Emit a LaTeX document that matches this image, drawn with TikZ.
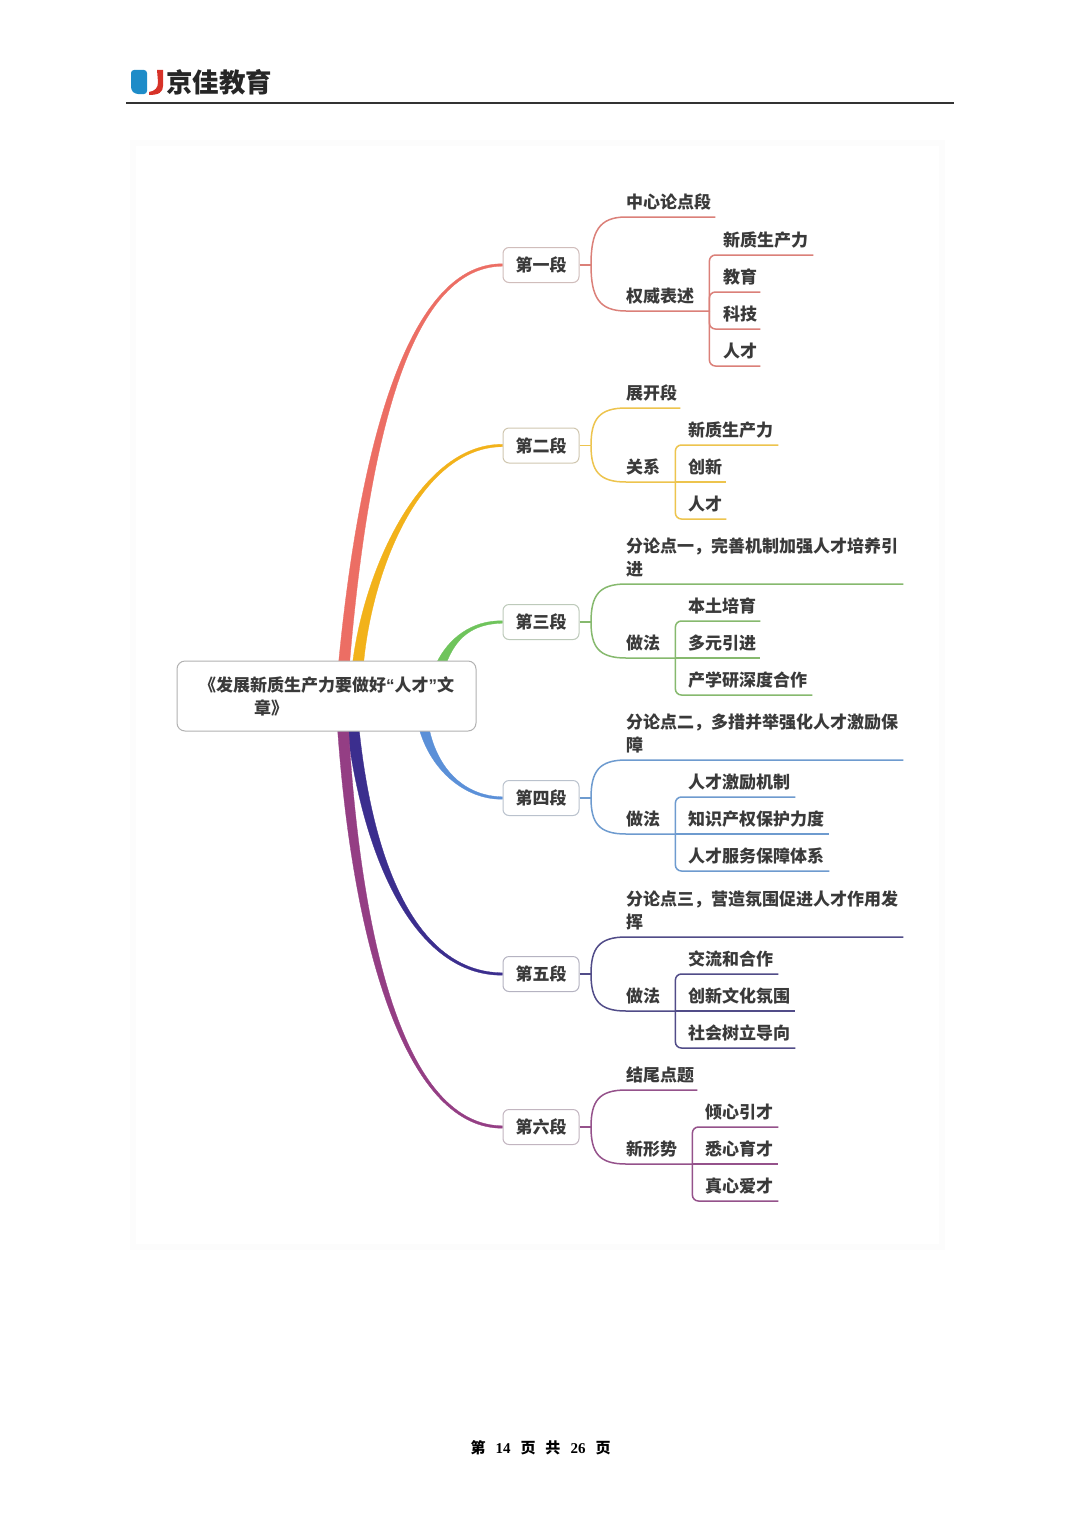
\documentclass[tikz,border=0pt]{standalone}
\usepackage{fontspec}
\usetikzlibrary{calc,backgrounds}
\setmainfont{Noto Sans CJK SC}
\newfontfamily\ltn{Liberation Sans}
\newfontfamily\serifdig{Liberation Serif}
\definecolor{txt}{HTML}{3A3A3A}
\definecolor{bA}{HTML}{EC6E64}\definecolor{lA}{HTML}{DB8079}
\definecolor{bB}{HTML}{F2B21A}\definecolor{lB}{HTML}{EDC44E}
\definecolor{bC}{HTML}{6FC45C}\definecolor{lC}{HTML}{86B96E}
\definecolor{bD}{HTML}{5B90D8}\definecolor{lD}{HTML}{6E9BCF}
\definecolor{bE}{HTML}{3B2E8E}\definecolor{lE}{HTML}{514C88}
\definecolor{bF}{HTML}{943E84}\definecolor{lF}{HTML}{95528B}
\tikzset{
  leaf/.style={anchor=south west,inner xsep=0pt,inner ysep=8.5pt,text depth=0pt,align=left,text=txt,
    font=\fontsize{17}{23}\selectfont\bfseries},
  secbox/.style={draw=#1!30!gray!50,fill=white,line width=1pt,rounded corners=6pt,minimum width=76pt,minimum height=35pt,
    inner sep=0pt,text=txt,font=\fontsize{17}{20}\selectfont\bfseries},
  rootbox/.style={draw=black!30,fill=white,line width=1pt,rounded corners=8pt,minimum width=299pt,minimum height=70pt},
  twig/.style={line width=1.5pt,draw=#1,rounded corners=6pt},
  limb/.style={line width=.3pt,draw=#1,fill=#1},
}
\newcommand{\lf}[5]{\node[leaf,text width=#4pt] (#1) at (#2,#3) {#5};}
\newcommand{\lftwo}[5]{\node[leaf,text depth=23pt,text width=#4pt] (#1) at (#2,#3) {#5};}
\newcommand{\sect}[3]{\draw[line width=1.5pt,draw=#3] (#1) .. controls ($(#1)!0.7!(#1 |- #2.south west)$) and ($(#1 |- #2.south west)+(8,0)$) .. (#2.south west) -- (#2.south east);}
% colour, start, control 1, control 2, end node, half width at the start, sign (-1 rising, 1 falling)
\newcommand{\limbto}[7]{\draw[limb=#1] ($(#2)+(-#6,0)$) .. controls ($(#3)+(-0.75*#6,0)$) and ($(#4)+(0,#7*1.8)$) .. ($(#5.west)+(0,#7*1.2)$) -- ($(#5.west)+(0,-#7*1.2)$) .. controls ($(#4)+(0,-#7*1.8)$) and ($(#3)+(0.75*#6,0)$) .. ($(#2)+(#6,0)$) -- cycle;}
\begin{document}
\begin{tikzpicture}[x=1pt,y=-1pt]
\useasboundingbox (0,0) rectangle (1080,1528);
% header
\draw[line width=1.5pt,draw=black!80] (126,103) -- (954,103);
\fill[rounded corners=3pt,color={rgb,255:red,30;green,140;blue,200}] (131,70) -- (147,70) -- (147,94) -- (135,94) -- (131,90) -- cycle;
\fill[color={rgb,255:red,215;green,50;blue,40}] (157,70) -- (163,70) -- (163,86) .. controls (163,92) and (159,95) .. (149,95) -- (149,92) .. controls (155,91) and (158,88) .. (158,82) -- cycle;
\node[anchor=west,inner sep=0pt,text=black!85,font=\fontsize{26.5}{27}\selectfont\bfseries] (logo) at (166,82) {京佳教育};
\node[anchor=center,inner sep=0pt,text=black,font=\fontsize{15}{15}\selectfont\bfseries] (foot) at (540.5,1448) {第\hspace*{10pt}{\serifdig 14}\hspace*{10pt}页\hspace*{10pt}共\hspace*{10pt}{\serifdig 26}\hspace*{10pt}页};
% root
\node[rootbox] (root) at (326.5,696) {};
\node[anchor=base west,inner sep=0pt,align=left,text=txt,font=\fontsize{17}{23}\selectfont\bfseries] (rootline) at (199,691) {《发展新质生产力要做好{\ltn “}人才{\ltn ”}文};
\node[anchor=base west,inner sep=0pt,text=txt,font=\fontsize{17}{23}\selectfont\bfseries] (rootlinetwo) at (254,714) {章》};
% section boxes
\node[secbox=bA] (sA) at (541,265) {第一段};
\node[secbox=bB] (sB) at (541,445.5) {第二段};
\node[secbox=bC] (sC) at (541,622) {第三段};
\node[secbox=bD] (sD) at (541,798) {第四段};
\node[secbox=bE] (sE) at (541,974) {第五段};
\node[secbox=bF] (sF) at (541,1127) {第六段};
\foreach \n/\y in {A/265,B/445.5,C/622,D/798,E/974,F/1127}{\coordinate (k\n) at (591,\y);}
% limbs
\begin{scope}[on background layer]
\fill[black!1.2] (130,140) rectangle (945,1250);
\fill[white] (136,146) rectangle (939,1244);
\coordinate (rA) at (344,664); \coordinate (rB) at (358,664);
\coordinate (rC) at (441,664); \coordinate (rD) at (424,728);
\coordinate (rE) at (353,728); \coordinate (rF) at (343,728);
\limbto{bA}{rA}{366,420}{415,265}{sA}{5.5}{-1}
\limbto{bB}{rB}{368,570}{420,445.5}{sB}{5.5}{-1}
\limbto{bC}{rC}{452,638}{472,622}{sC}{5}{-1}
\limbto{bD}{rD}{434,770}{465,798}{sD}{5}{1}
\limbto{bE}{rE}{368,860}{415,974}{sE}{6}{1}
\limbto{bF}{rF}{358,960}{410,1127}{sF}{5.5}{1}
\end{scope}
% section A
\lf{a1}{626}{217}{89}{中心论点段}
\lf{a2}{626}{311}{83}{权威表述}
\lf{a3}{723}{255}{90}{新质生产力}
\lf{a4}{723}{292}{37}{教育}
\lf{a5}{723}{329}{37}{科技}
\lf{a6}{723}{366}{37}{人才}
\draw[twig=lA] (sA.east) -- (kA);
\sect{kA}{a1}{lA}\sect{kA}{a2}{lA}
\foreach \c in {a3,a4,a5,a6}{\draw[twig=lA] (a2.south east) |- (\c.south east);}
% section B
\lf{b1}{626}{408}{54}{展开段}
\lf{b2}{626}{482}{49}{关系}
\lf{b3}{688}{445}{90}{新质生产力}
\lf{b4}{688}{482}{38}{创新}
\lf{b5}{688}{519}{38}{人才}
\draw[twig=lB] (sB.east) -- (kB);
\sect{kB}{b1}{lB}\sect{kB}{b2}{lB}
\foreach \c in {b3,b5}{\draw[twig=lB] (b2.south east) |- (\c.south east);}
\draw[twig=lB] (b2.south east) -- (b4.south east);
% section C
\lftwo{c1}{626}{584}{277}{分论点一，完善机制加强人才培养引\\进}
\lf{c2}{626}{658}{49}{做法}
\lf{c3}{688}{621}{72}{本土培育}
\lf{c4}{688}{658}{72}{多元引进}
\lf{c5}{688}{695}{124}{产学研深度合作}
\draw[twig=lC] (sC.east) -- (kC);
\sect{kC}{c1}{lC}\sect{kC}{c2}{lC}
\foreach \c in {c3,c5}{\draw[twig=lC] (c2.south east) |- (\c.south east);}
\draw[twig=lC] (c2.south east) -- (c4.south east);
% section D
\lftwo{d1}{626}{760}{277}{分论点二，多措并举强化人才激励保\\障}
\lf{d2}{626}{834}{49}{做法}
\lf{d3}{688}{797}{107}{人才激励机制}
\lf{d4}{688}{834}{141}{知识产权保护力度}
\lf{d5}{688}{871}{141}{人才服务保障体系}
\draw[twig=lD] (sD.east) -- (kD);
\sect{kD}{d1}{lD}\sect{kD}{d2}{lD}
\foreach \c in {d3,d5}{\draw[twig=lD] (d2.south east) |- (\c.south east);}
\draw[twig=lD] (d2.south east) -- (d4.south east);
% section E
\lftwo{e1}{626}{937}{277}{分论点三，营造氛围促进人才作用发\\挥}
\lf{e2}{626}{1011}{49}{做法}
\lf{e3}{688}{974}{90}{交流和合作}
\lf{e4}{688}{1011}{107}{创新文化氛围}
\lf{e5}{688}{1048}{107}{社会树立导向}
\draw[twig=lE] (sE.east) -- (kE);
\sect{kE}{e1}{lE}\sect{kE}{e2}{lE}
\foreach \c in {e3,e5}{\draw[twig=lE] (e2.south east) |- (\c.south east);}
\draw[twig=lE] (e2.south east) -- (e4.south east);
% section F
\lf{f1}{626}{1090}{71}{结尾点题}
\lf{f2}{626}{1164}{66}{新形势}
\lf{f3}{705}{1127}{73}{倾心引才}
\lf{f4}{705}{1164}{73}{悉心育才}
\lf{f5}{705}{1201}{73}{真心爱才}
\draw[twig=lF] (sF.east) -- (kF);
\sect{kF}{f1}{lF}\sect{kF}{f2}{lF}
\foreach \c in {f3,f5}{\draw[twig=lF] (f2.south east) |- (\c.south east);}
\draw[twig=lF] (f2.south east) -- (f4.south east);
\end{tikzpicture}
\end{document}
